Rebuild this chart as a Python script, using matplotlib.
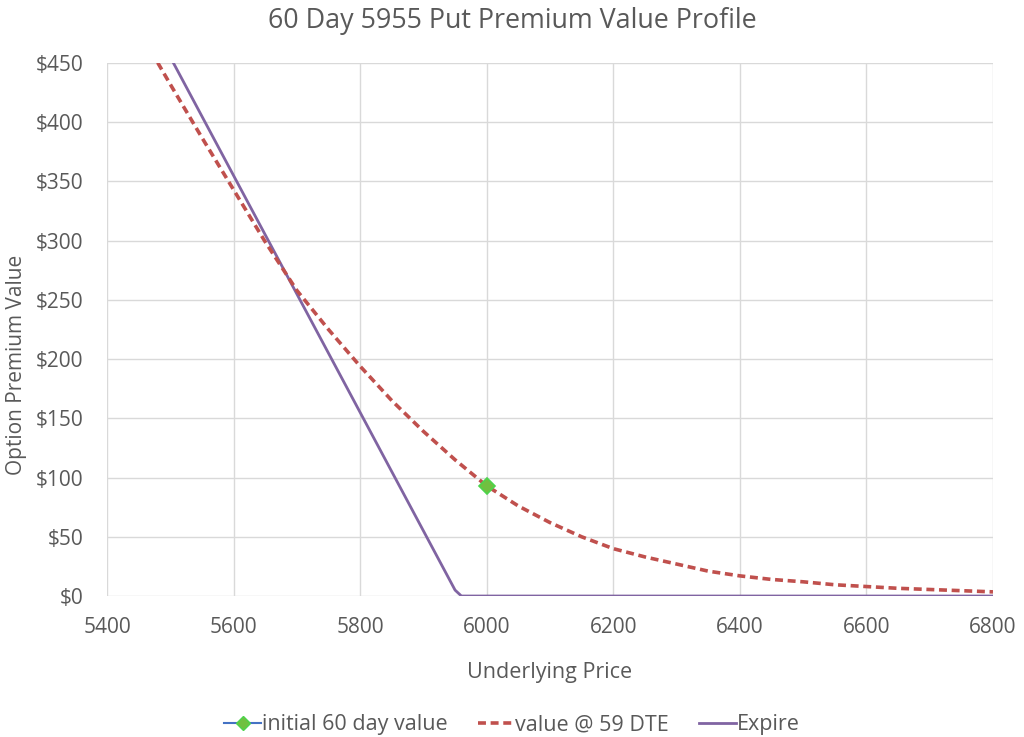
import matplotlib
matplotlib.use("Agg")
import matplotlib.pyplot as plt
from matplotlib.lines import Line2D

# Data
price_59 = [5450, 5500, 5550, 5600, 5650, 5700, 5750, 5800, 5850, 5900, 5950, 6000,
            6050, 6100, 6150, 6200, 6250, 6300, 6350, 6400, 6450, 6500, 6550, 6600,
            6650, 6700, 6750, 6800]
value_59 = [478, 432, 387, 343, 299, 258, 225, 194, 165, 139, 115, 93,
            76, 62, 50, 40, 33, 27, 21, 17, 14, 12, 9.5, 8,
            6.5, 5.5, 4.5, 3.5]

price_exp = [5450, 5500, 5550, 5600, 5650, 5700, 5750, 5800, 5850, 5900, 5950, 5960,
             6000, 6200, 6400, 6600, 6800]
value_exp = [505, 455, 405, 355, 305, 255, 205, 155, 105, 55, 5, 0,
             0, 0, 0, 0, 0]

initial_price = [6000]
initial_value = [93]

x_ticks = [5400, 5600, 5800, 6000, 6200, 6400, 6600, 6800]
y_ticks = [0, 50, 100, 150, 200, 250, 300, 350, 400, 450]

TXT = "#595959"
plt.rcParams['font.family'] = ['Open Sans', 'DejaVu Sans']

fig = plt.figure(figsize=(10.24, 7.37), dpi=100)
ax = fig.add_axes([0.1045, 0.1913, 0.8652, 0.7232])

ax.plot(price_exp, value_exp, color="#8064A2", lw=2.0, zorder=3)
ax.plot(price_59, value_59, color="#C0504D", lw=2.6, linestyle=(0, (2.2, 1.3)), zorder=4)
ax.plot(initial_price, initial_value, color="#4472C4", marker="D", markersize=8,
        markerfacecolor="#70C040", markeredgecolor="#4CD44C", markeredgewidth=1.2,
        linestyle="none", zorder=5)

ax.set_xlim(5400, 6800)
ax.set_ylim(0, 450)
ax.set_xticks(x_ticks)
ax.set_yticks(y_ticks)
ax.set_yticklabels([f"${v}" for v in y_ticks])
ax.grid(True, color="#D9D9D9", lw=1.0)
ax.set_axisbelow(True)
for s in ax.spines.values():
    s.set_visible(False)
ax.tick_params(length=0, labelsize=15, colors=TXT)
ax.tick_params(axis="x", pad=15)
ax.tick_params(axis="y", pad=17)

ax.set_xlabel("Underlying Price", fontsize=15.5, color=TXT)
ax.xaxis.set_label_coords(0.5, -0.123)
ax.set_ylabel("Option Premium Value", fontsize=15, color=TXT)
ax.yaxis.set_label_coords(-0.09, 0.433)
fig.suptitle("60 Day 5955 Put Premium Value Profile", fontsize=19.4, color=TXT, y=0.99)

handles = [
    Line2D([], [], color="#4472C4", lw=1.5, marker="D", markersize=7,
           markerfacecolor="#70C040", markeredgecolor="#4CD44C"),
    Line2D([], [], color="#C0504D", lw=2.6, linestyle=(0, (2.2, 1.3))),
    Line2D([], [], color="#8064A2", lw=2.0),
]
labels = ["initial 60 day value", "value @ 59 DTE", "Expire"]
fig.legend(handles, labels, loc="lower center", bbox_to_anchor=(0.5, -0.024), ncol=3,
           frameon=False, fontsize=15.5, labelcolor=TXT, handlelength=1.7,
           handletextpad=0.05, columnspacing=1.4)

fig.savefig("out.png", dpi=100)
